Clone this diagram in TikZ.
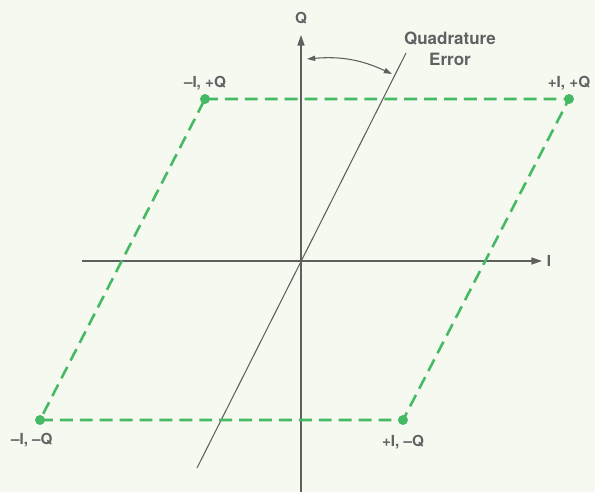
\documentclass[tikz,border=0pt]{standalone}
\usepackage{fontspec}
\setmainfont{TeX Gyre Heros}
\usetikzlibrary{arrows.meta, positioning}
\definecolor{paper}{RGB}{246,249,240}
\definecolor{axisgray}{RGB}{95,95,95}
\definecolor{textgray}{RGB}{95,98,98}
\definecolor{errgreen}{RGB}{70,185,100}

\begin{document}
\begin{tikzpicture}[
  x=0.03cm, y=0.03cm,
  font=\bfseries\fontsize{13}{15}\selectfont,
  >={Triangle[length=9pt, width=6pt]},
  % axis lines
  axis/.style={
    ->,
    draw=axisgray,
    line width=1.1pt
  },
  % the skewed Q axis
  skewline/.style={
    draw=axisgray,
    line width=0.9pt
  },
  % dashed error box
  boxline/.style={
    draw=errgreen,
    line width=2.2pt,
    dash pattern=on 11pt off 6pt
  },
  % corner points
  corner/.style={
    circle,
    fill=errgreen,
    inner sep=0pt,
    minimum size=8.5pt
  },
  cornerlabel/.style={
    text=textgray,
    inner sep=1pt
  },
  % arc between Q and the skewed axis
  errarc/.style={
    <->,
    draw=axisgray,
    line width=0.9pt,
    >={Triangle[length=7pt, width=4.5pt]}
  }
]

% -----------------------------------------------
% BACKGROUND / BOUNDING BOX
% -----------------------------------------------
\fill[paper] (-301,-231) rectangle (294,261);
\useasboundingbox (-301,-231) rectangle (294,261);

% -----------------------------------------------
% AXES
% -----------------------------------------------
\coordinate (origin) at (0,0);
\coordinate (iStart) at (-219,0);
\coordinate (iEnd) at (241,0);
\coordinate (qStart) at (0,-231);
\coordinate (qEnd) at (0,226);

\draw[axis] (iStart) -- (iEnd);
\draw[axis] (qStart) -- (qEnd);

\node[cornerlabel, right=3pt of iEnd] (iLabel) {I};
\node[cornerlabel, above=8pt of qEnd] (qLabel) {Q};

% Skewed Q' axis
\coordinate (skewLow) at (-104,-207);
\coordinate (skewHigh) at (105,208);
\draw[skewline] (skewLow) -- (skewHigh);

% -----------------------------------------------
% CORNER POINTS
% -----------------------------------------------
\node[corner] (mIpQ) at (-96,162) {};
\node[corner] (pIpQ) at (268,162) {};
\node[corner] (mImQ) at (-261,-159) {};
\node[corner] (pImQ) at (102,-159) {};

\node[cornerlabel, above=2pt of mIpQ] (mIpQLabel) {–I, +Q};
\node[cornerlabel, above=2pt of pIpQ] (pIpQLabel) {+I, +Q};
\node[cornerlabel, below=6pt of mImQ, xshift=-7pt] (mImQLabel) {–I, –Q};
\node[cornerlabel, below=7pt of pImQ] (pImQLabel) {+I, –Q};

% Dashed parallelogram
\draw[boxline] (mIpQ.center) -- (pIpQ.center) -- (pImQ.center)
  -- (mImQ.center) -- cycle;

% -----------------------------------------------
% QUADRATURE ERROR
% -----------------------------------------------
\node[cornerlabel, align=center, font=\bfseries\fontsize{14.5}{18}\selectfont]
  (errLabel) at (149,212) {Quadrature\\Error};

\coordinate (arcStart) at (6,202);
\coordinate (arcEnd) at (91,187);
\draw[errarc] (arcStart) to[bend left=15] (arcEnd);

\end{tikzpicture}
\end{document}
